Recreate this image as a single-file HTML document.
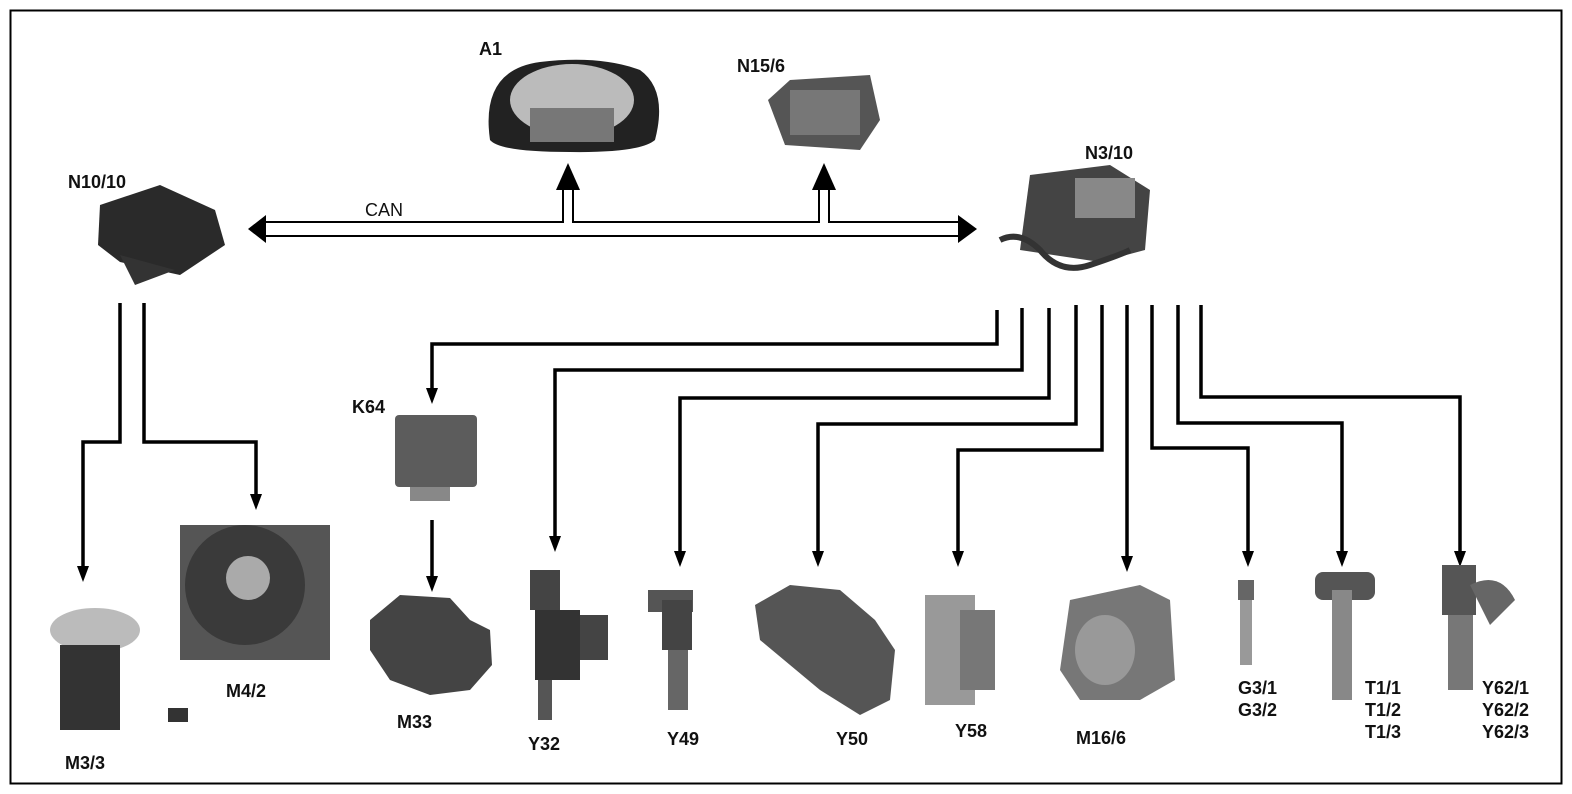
<!DOCTYPE html>
<html><head><meta charset="utf-8"><style>
html,body{margin:0;padding:0;background:#fff}
svg{display:block}
text{font-family:"Liberation Sans",Arial,sans-serif;font-weight:bold;font-size:18px;fill:#111}
</style></head><body>
<svg width="1572" height="794" viewBox="0 0 1572 794" xmlns="http://www.w3.org/2000/svg">
<rect x="10.5" y="10.5" width="1551" height="773" fill="none" stroke="#000" stroke-width="2"/>

<!-- CAN bus -->
<g stroke="#000" stroke-width="2" fill="none">
<path d="M262 222 H563 V190 M573 190 V222 H819 V190 M829 190 V222 H962"/>
<path d="M262 236 H962"/>
</g>
<polygon points="248,229 266,215 266,243" fill="#000"/>
<polygon points="977,229 958,215 958,243" fill="#000"/>
<polygon points="568,163 556,190 580,190" fill="#000"/>
<polygon points="824,163 812,190 836,190" fill="#000"/>
<text x="365" y="216" style="font-weight:normal;font-size:18px">CAN</text>

<!-- connection lines -->
<g stroke="#000" stroke-width="3.5" fill="none">
<path d="M120 303 V442 H83 V570"/>
<path d="M144 303 V442 H256 V498"/>
<path d="M997 310 V344 H432 V392"/>
<path d="M432 520 V580"/>
<path d="M1022 308 V370 H555 V540"/>
<path d="M1049 308 V398 H680 V555"/>
<path d="M1076 305 V424 H818 V555"/>
<path d="M1102 305 V450 H958 V555"/>
<path d="M1127 305 V560"/>
<path d="M1152 305 V448 H1248 V555"/>
<path d="M1178 305 V423 H1342 V555"/>
<path d="M1201 305 V397 H1460 V555"/>
</g>
<g fill="#000">
<polygon points="83,582 77,566 89,566"/>
<polygon points="256,510 250,494 262,494"/>
<polygon points="432,404 426,388 438,388"/>
<polygon points="432,592 426,576 438,576"/>
<polygon points="555,552 549,536 561,536"/>
<polygon points="680,567 674,551 686,551"/>
<polygon points="818,567 812,551 824,551"/>
<polygon points="958,567 952,551 964,551"/>
<polygon points="1127,572 1121,556 1133,556"/>
<polygon points="1248,567 1242,551 1254,551"/>
<polygon points="1342,567 1336,551 1348,551"/>
<polygon points="1460,567 1454,551 1466,551"/>
</g>

<!-- components (approximations) -->
<path d="M490 140 Q480 70 540 62 Q600 55 640 70 Q668 90 655 140 Q640 153 570 152 Q500 152 490 140Z" fill="#222"/>
<ellipse cx="572" cy="100" rx="62" ry="36" fill="#bbb"/>
<rect x="530" y="108" width="84" height="34" fill="#777"/>
<path d="M768 100 L790 80 L870 75 L880 120 L860 150 L785 145 Z" fill="#555"/>
<rect x="790" y="90" width="70" height="45" fill="#777"/>
<path d="M100 205 L160 185 L215 210 L225 245 L180 275 L120 262 L98 245 Z" fill="#2a2a2a"/>
<path d="M120 255 L135 285 L175 270" fill="#333"/>
<path d="M1030 175 L1110 165 L1150 190 L1145 250 L1100 262 L1020 250 Z" fill="#444"/>
<rect x="1075" y="178" width="60" height="40" fill="#888"/>
<path d="M1000 240 Q1020 230 1040 250 Q1060 275 1090 265 Q1120 255 1130 250" stroke="#333" stroke-width="6" fill="none"/>
<rect x="395" y="415" width="82" height="72" rx="4" fill="#5c5c5c"/>
<rect x="410" y="487" width="40" height="14" fill="#888"/>
<ellipse cx="95" cy="630" rx="45" ry="22" fill="#bbb"/>
<rect x="60" y="645" width="60" height="85" fill="#333"/>
<rect x="168" y="708" width="20" height="14" fill="#333"/>
<rect x="180" y="525" width="150" height="135" fill="#555"/>
<circle cx="245" cy="585" r="60" fill="#3a3a3a"/>
<circle cx="248" cy="578" r="22" fill="#aaa"/>
<path d="M370 620 L400 595 L450 598 L470 620 L490 630 L492 665 L470 690 L430 695 L390 680 L370 650 Z" fill="#444"/>
<rect x="530" y="570" width="30" height="40" fill="#444"/>
<rect x="535" y="610" width="45" height="70" fill="#333"/>
<rect x="580" y="615" width="28" height="45" fill="#444"/>
<rect x="538" y="680" width="14" height="40" fill="#555"/>
<rect x="648" y="590" width="45" height="22" fill="#555"/>
<rect x="662" y="600" width="30" height="50" fill="#444"/>
<rect x="668" y="650" width="20" height="60" fill="#666"/>
<path d="M755 605 L790 585 L840 590 L875 620 L895 650 L890 700 L860 715 L820 690 L760 640 Z" fill="#555"/>
<rect x="925" y="595" width="50" height="110" fill="#999"/>
<rect x="960" y="610" width="35" height="80" fill="#777"/>
<path d="M1070 600 L1140 585 L1170 600 L1175 680 L1140 700 L1080 700 L1060 670 Z" fill="#777"/>
<ellipse cx="1105" cy="650" rx="30" ry="35" fill="#999"/>
<rect x="1238" y="580" width="16" height="20" fill="#666"/>
<rect x="1240" y="600" width="12" height="65" fill="#999"/>
<rect x="1315" y="572" width="60" height="28" rx="8" fill="#555"/>
<rect x="1332" y="590" width="20" height="110" fill="#888"/>
<rect x="1442" y="565" width="34" height="50" fill="#555"/>
<path d="M1470 585 Q1500 570 1515 600 L1490 625 Z" fill="#666"/>
<rect x="1448" y="615" width="25" height="75" fill="#777"/>

<!-- labels -->
<text x="479" y="55">A1</text>
<text x="737" y="72">N15/6</text>
<text x="1085" y="159">N3/10</text>
<text x="68" y="188">N10/10</text>
<text x="352" y="413">K64</text>
<text x="65" y="769">M3/3</text>
<text x="226" y="697">M4/2</text>
<text x="397" y="728">M33</text>
<text x="528" y="750">Y32</text>
<text x="667" y="745">Y49</text>
<text x="836" y="745">Y50</text>
<text x="955" y="737">Y58</text>
<text x="1076" y="744">M16/6</text>
<text x="1238" y="694">G3/1</text>
<text x="1238" y="716">G3/2</text>
<text x="1365" y="694">T1/1</text>
<text x="1365" y="716">T1/2</text>
<text x="1365" y="738">T1/3</text>
<text x="1482" y="694">Y62/1</text>
<text x="1482" y="716">Y62/2</text>
<text x="1482" y="738">Y62/3</text>
</svg>
</body></html>
